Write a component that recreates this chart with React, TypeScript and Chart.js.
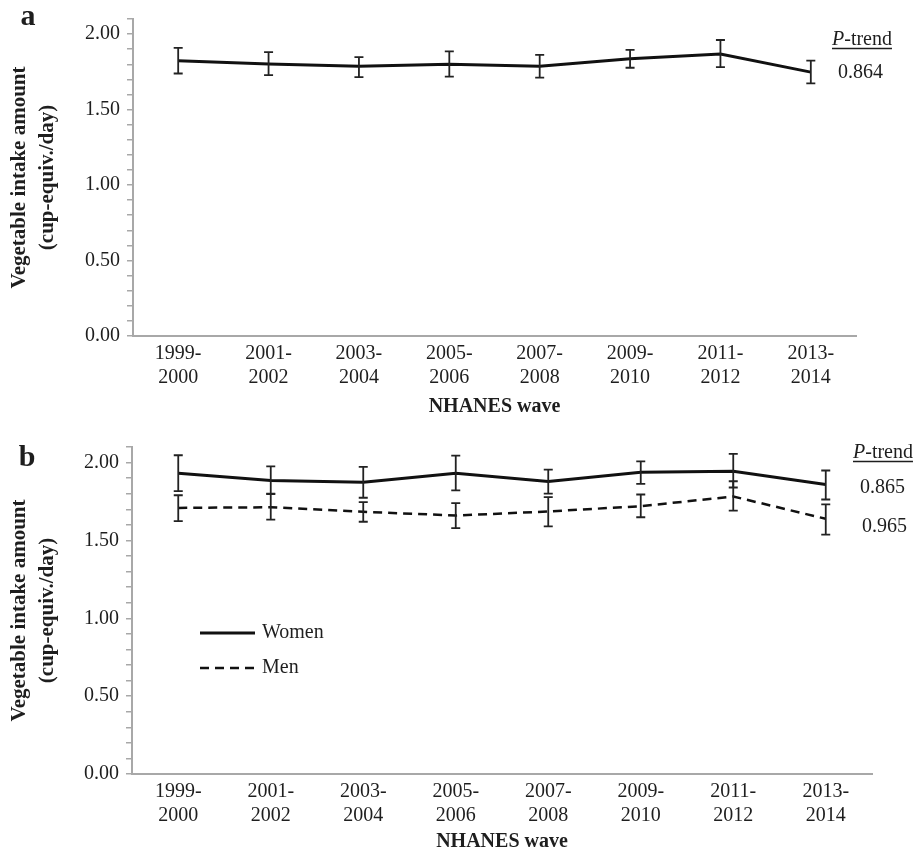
import React, { useEffect, useRef } from "react";
import { Chart, registerables } from "chart.js";

Chart.register(...registerables);

// ---------------- data ----------------
const waves: string[][] = [
  ["1999-", "2000"],
  ["2001-", "2002"],
  ["2003-", "2004"],
  ["2005-", "2006"],
  ["2007-", "2008"],
  ["2009-", "2010"],
  ["2011-", "2012"],
  ["2013-", "2014"],
];

const allMean = [1.824, 1.802, 1.787, 1.8, 1.787, 1.837, 1.868, 1.748];
const allLower = [1.739, 1.728, 1.715, 1.718, 1.711, 1.777, 1.781, 1.674];
const allUpper = [1.909, 1.88, 1.848, 1.885, 1.863, 1.896, 1.961, 1.824];

const womenMean = [1.931, 1.885, 1.874, 1.931, 1.878, 1.938, 1.944, 1.859];
const womenLower = [1.816, 1.8, 1.774, 1.821, 1.8, 1.863, 1.84, 1.763];
const womenUpper = [2.047, 1.976, 1.972, 2.045, 1.955, 2.008, 2.056, 1.949];

const menMean = [1.709, 1.713, 1.684, 1.66, 1.686, 1.72, 1.782, 1.639];
const menLower = [1.624, 1.633, 1.62, 1.579, 1.59, 1.649, 1.692, 1.537];
const menUpper = [1.79, 1.797, 1.746, 1.739, 1.778, 1.795, 1.88, 1.731];

const yTickLabels = ["0.00", "0.50", "1.00", "1.50", "2.00"];
const yTitle = ["Vegetable intake amount", "(cup-equiv./day)"];
const xTitle = "NHANES wave";
const pTrendA = ["0.864"];
const pTrendB = ["0.865", "0.965"];
const seriesNames = ["Women", "Men"];

// ---------------- styles ----------------
const SERIF = '"Liberation Serif", "Times New Roman", serif';
const TEXT = "#1e1e1e";
const AXIS = "#a8a8a8";
const W = 919;

const errorBarPlugin = {
  id: "errorBars",
  afterDatasetsDraw(chart: any) {
    const ctx = chart.ctx;
    const yScale = chart.scales.y;
    chart.data.datasets.forEach((ds: any, i: number) => {
      const meta = chart.getDatasetMeta(i);
      if (!ds.errLower) return;
      ctx.save();
      ctx.strokeStyle = "#222";
      ctx.lineWidth = 1.8;
      meta.data.forEach((pt: any, j: number) => {
        const x = pt.x;
        const yl = yScale.getPixelForValue(ds.errLower[j]);
        const yu = yScale.getPixelForValue(ds.errUpper[j]);
        ctx.beginPath();
        ctx.moveTo(x, yl);
        ctx.lineTo(x, yu);
        ctx.moveTo(x - 4.5, yl);
        ctx.lineTo(x + 4.5, yl);
        ctx.moveTo(x - 4.5, yu);
        ctx.lineTo(x + 4.5, yu);
        ctx.stroke();
      });
      ctx.restore();
    });
  },
};

function drawPTrend(ctx: CanvasRenderingContext2D, x: number, y: number) {
  ctx.save();
  ctx.fillStyle = TEXT;
  ctx.textBaseline = "middle";
  ctx.textAlign = "left";
  ctx.font = `italic 20px ${SERIF}`;
  ctx.fillText("P", x, y);
  const wP = ctx.measureText("P").width;
  ctx.font = `20px ${SERIF}`;
  ctx.fillText("-trend", x + wP, y);
  const wT = ctx.measureText("-trend").width;
  ctx.strokeStyle = TEXT;
  ctx.lineWidth = 1.5;
  ctx.beginPath();
  ctx.moveTo(x, y + 8.5);
  ctx.lineTo(x + wP + wT, y + 8.5);
  ctx.stroke();
  ctx.restore();
}

function makeConfig(p: {
  datasets: any[];
  leftW: number;
  right: number;
  top: number;
  bottomH: number;
  xTitlePad: number;
  annotate: (ctx: CanvasRenderingContext2D, chart: any) => void;
}) {
  return {
    type: "line",
    data: { labels: waves, datasets: p.datasets },
    options: {
      animation: false,
      responsive: false,
      devicePixelRatio: 1,
      layout: { padding: { left: 0, right: W - p.right, top: p.top, bottom: 0 } },
      plugins: { legend: { display: false }, tooltip: { enabled: false } },
      elements: { point: { radius: 0 }, line: { tension: 0 } },
      scales: {
        x: {
          type: "category",
          offset: true,
          afterFit: (s: any) => {
            s.height = p.bottomH;
          },
          grid: { display: true, drawOnChartArea: false, drawTicks: false },
          border: { display: true, color: AXIS, width: 2 },
          ticks: {
            autoSkip: false,
            maxRotation: 0,
            padding: 6,
            color: TEXT,
            font: { family: SERIF, size: 20, lineHeight: 1.18 },
          },
          title: {
            display: true,
            text: xTitle,
            color: TEXT,
            font: { family: SERIF, size: 20, weight: "bold", lineHeight: 1.2 },
            padding: { top: 0, bottom: p.xTitlePad },
          },
        },
        y: {
          min: 0,
          max: 2.1,
          afterFit: (s: any) => {
            s.width = p.leftW;
          },
          grid: {
            display: true,
            drawOnChartArea: false,
            drawTicks: true,
            tickLength: 6,
            color: AXIS,
            lineWidth: 1.5,
          },
          border: { display: true, color: AXIS, width: 2 },
          ticks: {
            stepSize: 0.1,
            autoSkip: false,
            padding: 7,
            color: TEXT,
            font: { family: SERIF, size: 20 },
            callback: (v: number) => {
              const t = Math.round(v * 10);
              return t % 5 === 0 ? yTickLabels[t / 5] : "";
            },
          },
          title: {
            display: true,
            text: yTitle,
            color: TEXT,
            font: { family: SERIF, size: 21, weight: "bold", lineHeight: 1.29 },
            padding: { top: 6.5, bottom: 0 },
          },
        },
      },
    },
    plugins: [
      errorBarPlugin,
      {
        id: "annot",
        afterDraw(chart: any) {
          p.annotate(chart.ctx, chart);
        },
      },
    ],
  } as any;
}

function Panel({ top, height, config }: { top: number; height: number; config: () => any }) {
  const ref = useRef<HTMLCanvasElement>(null);
  useEffect(() => {
    const chart = new Chart(ref.current as HTMLCanvasElement, config());
    return () => chart.destroy();
  }, []);
  return (
    <canvas
      ref={ref}
      width={W}
      height={height}
      style={{ position: "absolute", left: 0, top, width: W, height, display: "block" }}
    />
  );
}

const configA = () =>
  makeConfig({
    datasets: [
      {
        label: "All",
        data: allMean,
        errLower: allLower,
        errUpper: allUpper,
        borderColor: "#111",
        borderWidth: 3,
        fill: false,
      },
    ],
    leftW: 133,
    right: 856,
    top: 14,
    bottomH: 84,
    xTitlePad: 1,
    annotate: (ctx) => {
      ctx.save();
      ctx.fillStyle = TEXT;
      ctx.textBaseline = "middle";
      ctx.textAlign = "center";
      ctx.font = `bold 30px ${SERIF}`;
      ctx.fillText("a", 28, 17);
      ctx.restore();
      drawPTrend(ctx, 832, 40);
      ctx.save();
      ctx.fillStyle = TEXT;
      ctx.textBaseline = "middle";
      ctx.textAlign = "left";
      ctx.font = `20px ${SERIF}`;
      ctx.fillText(pTrendA[0], 838, 73);
      ctx.restore();
    },
  });

const configB = () =>
  makeConfig({
    datasets: [
      {
        label: seriesNames[0],
        data: womenMean,
        errLower: womenLower,
        errUpper: womenUpper,
        borderColor: "#111",
        borderWidth: 3,
        fill: false,
      },
      {
        label: seriesNames[1],
        data: menMean,
        errLower: menLower,
        errUpper: menUpper,
        borderColor: "#111",
        borderWidth: 2.5,
        borderDash: [9, 6],
        fill: false,
      },
    ],
    leftW: 132,
    right: 872,
    top: 27,
    bottomH: 84,
    xTitlePad: 4,
    annotate: (ctx, chart) => {
      ctx.save();
      ctx.fillStyle = TEXT;
      ctx.textBaseline = "middle";
      ctx.textAlign = "center";
      ctx.font = `bold 30px ${SERIF}`;
      ctx.fillText("b", 27, 38);
      ctx.restore();
      drawPTrend(ctx, 853, 33);
      ctx.save();
      ctx.fillStyle = TEXT;
      ctx.textBaseline = "middle";
      ctx.textAlign = "left";
      ctx.font = `20px ${SERIF}`;
      ctx.fillText(pTrendB[0], 860, 68);
      ctx.fillText(pTrendB[1], 862, 107);
      // legend
      const rows = [213, 248];
      chart.data.datasets.forEach((ds: any, i: number) => {
        const y = rows[i];
        ctx.save();
        ctx.strokeStyle = ds.borderColor;
        ctx.lineWidth = ds.borderWidth;
        ctx.setLineDash(ds.borderDash || []);
        ctx.beginPath();
        ctx.moveTo(200, y);
        ctx.lineTo(255, y);
        ctx.stroke();
        ctx.restore();
        ctx.fillText(ds.label, 262, y);
      });
      ctx.restore();
    },
  });

export default function App() {
  return (
    <div style={{ position: "fixed", left: 0, top: 0, width: W, height: 858, background: "#fff" }}>
      <Panel top={0} height={420} config={configA} />
      <Panel top={420} height={438} config={configB} />
    </div>
  );
}
